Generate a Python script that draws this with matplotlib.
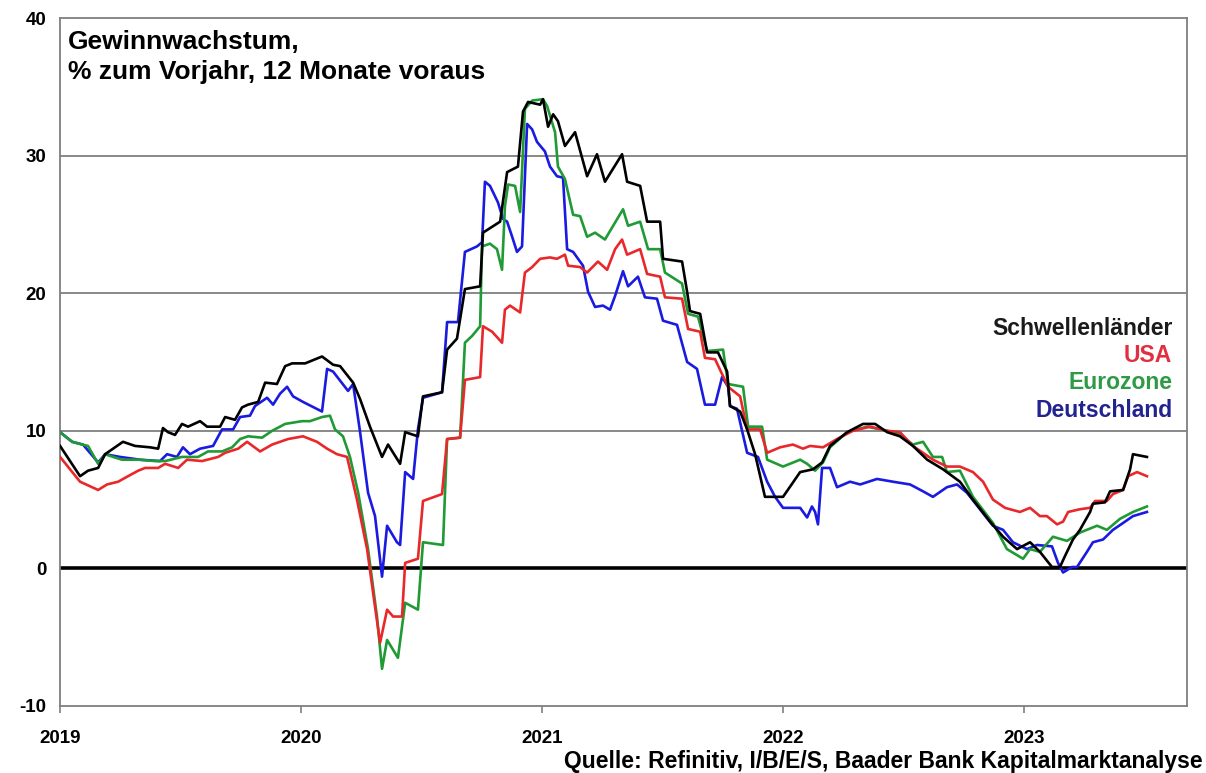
import matplotlib.pyplot as plt
import numpy as np

# Gewinnwachstum (12M forward EPS growth, % yoy)
# time in years after 1 Jan 2019

t_em = [0.000, 0.083, 0.116, 0.158, 0.187, 0.261, 0.311, 0.373, 0.407, 0.427, 0.448, 0.477,
        0.506, 0.531, 0.581, 0.610, 0.664, 0.685, 0.726, 0.755, 0.780, 0.822, 0.851, 0.900,
        0.934, 0.963, 1.017, 1.087, 1.133, 1.162, 1.216, 1.245, 1.286, 1.336, 1.361, 1.411,
        1.432, 1.485, 1.506, 1.585, 1.606, 1.647, 1.680, 1.743, 1.755, 1.826, 1.855, 1.900,
        1.921, 1.942, 1.992, 2.004, 2.025, 2.046, 2.066, 2.095, 2.137, 2.187, 2.228, 2.261,
        2.332, 2.353, 2.407, 2.436, 2.490, 2.502, 2.581, 2.602, 2.614, 2.656, 2.685, 2.730,
        2.768, 2.780, 2.822, 2.851, 2.884, 2.925, 3.000, 3.071, 3.124, 3.162, 3.195, 3.266,
        3.332, 3.382, 3.432, 3.485, 3.539, 3.598, 3.664, 3.734, 3.788, 3.859, 3.913, 3.971,
        4.025, 4.066, 4.116, 4.149, 4.170, 4.203, 4.232, 4.274, 4.286, 4.336, 4.357, 4.411,
        4.440, 4.452, 4.510]
v_em = [8.9, 6.7, 7.1, 7.3, 8.3, 9.2, 8.9, 8.8, 8.7, 10.2, 9.9, 9.7,
        10.5, 10.3, 10.7, 10.3, 10.3, 11.0, 10.8, 11.7, 11.9, 12.1, 13.5, 13.4,
        14.7, 14.9, 14.9, 15.4, 14.8, 14.7, 13.5, 12.3, 10.3, 8.1, 9.0, 7.6,
        9.9, 9.6, 12.5, 12.8, 15.9, 16.7, 20.3, 20.5, 24.4, 25.2, 28.8, 29.2,
        33.2, 33.9, 33.7, 34.1, 32.1, 33.0, 32.5, 30.7, 31.7, 28.5, 30.1, 28.1,
        30.1, 28.1, 27.8, 25.2, 25.2, 22.5, 22.3, 20.1, 18.7, 18.5, 15.7, 15.7,
        14.3, 11.8, 11.4, 10.1, 8.3, 5.2, 5.2, 7.0, 7.2, 7.7, 8.9, 9.9,
        10.5, 10.5, 9.9, 9.6, 8.9, 7.9, 7.2, 6.3, 5.0, 3.4, 2.3, 1.4,
        1.9, 1.2, 0.1, 0.1, 0.9, 2.1, 2.8, 4.1, 4.7, 4.8, 5.6, 5.7,
        7.2, 8.3, 8.1]

t_usa = [0.000, 0.083, 0.158, 0.195, 0.241, 0.282, 0.324, 0.353, 0.407, 0.436, 0.490, 0.527,
         0.589, 0.656, 0.685, 0.739, 0.776, 0.830, 0.880, 0.946, 1.008, 1.066, 1.108, 1.149,
         1.191, 1.232, 1.274, 1.307, 1.328, 1.357, 1.382, 1.419, 1.432, 1.485, 1.506, 1.585,
         1.606, 1.660, 1.680, 1.743, 1.755, 1.793, 1.834, 1.846, 1.867, 1.909, 1.929, 1.959,
         1.992, 2.033, 2.062, 2.095, 2.108, 2.158, 2.187, 2.232, 2.270, 2.303, 2.332, 2.353,
         2.407, 2.436, 2.490, 2.510, 2.581, 2.606, 2.656, 2.676, 2.718, 2.772, 2.822, 2.851,
         2.905, 2.934, 2.988, 3.041, 3.083, 3.112, 3.166, 3.224, 3.290, 3.361, 3.432, 3.485,
         3.539, 3.622, 3.680, 3.734, 3.788, 3.830, 3.871, 3.921, 3.983, 4.025, 4.066, 4.095,
         4.137, 4.162, 4.183, 4.232, 4.274, 4.295, 4.344, 4.369, 4.411, 4.432, 4.469, 4.510]
v_usa = [8.1, 6.3, 5.7, 6.1, 6.3, 6.7, 7.1, 7.3, 7.3, 7.6, 7.3, 7.9,
         7.8, 8.1, 8.4, 8.7, 9.2, 8.5, 9.0, 9.4, 9.6, 9.2, 8.7, 8.3,
         8.1, 5.0, 1.4, -2.8, -5.4, -3.0, -3.5, -3.5, 0.4, 0.7, 4.9, 5.4,
         9.4, 9.5, 13.7, 13.9, 17.6, 17.2, 16.4, 18.8, 19.1, 18.6, 21.5, 21.9,
         22.5, 22.6, 22.5, 22.8, 22.0, 21.9, 21.5, 22.3, 21.7, 23.2, 23.9, 22.8,
         23.2, 21.4, 21.2, 19.7, 19.6, 17.4, 17.2, 15.3, 15.2, 13.2, 12.5, 10.1,
         10.1, 8.4, 8.8, 9.0, 8.7, 8.9, 8.8, 9.4, 10.0, 10.3, 10.0, 9.9,
         8.9, 7.9, 7.4, 7.4, 7.0, 6.3, 5.0, 4.4, 4.1, 4.4, 3.8, 3.8,
         3.2, 3.4, 4.1, 4.3, 4.4, 4.9, 4.9, 5.4, 5.7, 6.7, 7.0, 6.7]

t_ez = [0.000, 0.050, 0.091, 0.116, 0.158, 0.187, 0.220, 0.257, 0.324, 0.394, 0.436, 0.506,
        0.573, 0.614, 0.672, 0.714, 0.747, 0.780, 0.838, 0.880, 0.934, 1.004, 1.037, 1.087,
        1.120, 1.141, 1.174, 1.203, 1.237, 1.278, 1.315, 1.336, 1.357, 1.402, 1.432, 1.485,
        1.506, 1.589, 1.606, 1.660, 1.680, 1.710, 1.743, 1.751, 1.784, 1.813, 1.834, 1.846,
        1.859, 1.888, 1.909, 1.929, 1.959, 2.004, 2.021, 2.054, 2.066, 2.095, 2.129, 2.158,
        2.187, 2.220, 2.261, 2.295, 2.336, 2.357, 2.407, 2.440, 2.490, 2.510, 2.581, 2.606,
        2.647, 2.685, 2.751, 2.772, 2.834, 2.855, 2.913, 2.934, 3.000, 3.071, 3.100, 3.133,
        3.166, 3.195, 3.266, 3.349, 3.432, 3.485, 3.539, 3.581, 3.622, 3.660, 3.680, 3.734,
        3.788, 3.871, 3.929, 3.996, 4.025, 4.066, 4.120, 4.178, 4.232, 4.303, 4.344, 4.398,
        4.452, 4.510]
v_ez = [9.9, 9.2, 9.0, 8.9, 7.6, 8.3, 8.1, 7.9, 7.9, 7.8, 7.8, 8.1,
        8.1, 8.5, 8.5, 8.8, 9.4, 9.6, 9.5, 10.0, 10.5, 10.7, 10.7, 11.0,
        11.1, 10.1, 9.6, 8.1, 5.5, 1.4, -3.5, -7.3, -5.2, -6.5, -2.5, -3.0,
        1.9, 1.7, 9.4, 9.5, 16.4, 16.9, 17.6, 23.4, 23.6, 23.2, 21.7, 26.3,
        27.9, 27.8, 25.9, 33.4, 34.0, 34.1, 33.6, 31.7, 29.2, 28.3, 25.7, 25.6,
        24.1, 24.4, 23.9, 24.9, 26.1, 24.9, 25.2, 23.2, 23.2, 21.5, 20.7, 18.5,
        18.3, 15.8, 15.9, 13.4, 13.2, 10.3, 10.3, 7.9, 7.4, 7.9, 7.6, 7.1,
        7.7, 8.8, 9.9, 10.3, 10.0, 9.7, 9.0, 9.2, 8.1, 8.1, 7.0, 7.1,
        5.2, 3.3, 1.4, 0.7, 1.4, 1.2, 2.3, 2.0, 2.6, 3.1, 2.8, 3.6,
        4.1, 4.5]

t_de = [0.000, 0.050, 0.095, 0.158, 0.187, 0.249, 0.332, 0.415, 0.444, 0.485, 0.510, 0.539,
        0.581, 0.635, 0.672, 0.718, 0.747, 0.788, 0.809, 0.859, 0.884, 0.913, 0.942, 0.967,
        1.008, 1.087, 1.108, 1.133, 1.195, 1.216, 1.245, 1.278, 1.307, 1.336, 1.357, 1.398,
        1.411, 1.432, 1.465, 1.485, 1.506, 1.585, 1.606, 1.651, 1.680, 1.730, 1.751, 1.763,
        1.784, 1.817, 1.838, 1.855, 1.876, 1.896, 1.917, 1.938, 1.959, 1.979, 2.012, 2.033,
        2.062, 2.087, 2.104, 2.129, 2.170, 2.191, 2.220, 2.253, 2.282, 2.303, 2.336, 2.357,
        2.398, 2.427, 2.477, 2.502, 2.560, 2.602, 2.643, 2.676, 2.718, 2.747, 2.772, 2.780,
        2.809, 2.851, 2.896, 2.934, 2.967, 3.000, 3.071, 3.100, 3.120, 3.133, 3.145, 3.162,
        3.195, 3.224, 3.278, 3.320, 3.390, 3.456, 3.527, 3.581, 3.622, 3.680, 3.722, 3.763,
        3.817, 3.871, 3.913, 3.954, 4.012, 4.054, 4.116, 4.141, 4.162, 4.199, 4.220, 4.261,
        4.286, 4.328, 4.369, 4.411, 4.452, 4.510]
v_de = [9.9, 9.2, 9.0, 7.7, 8.3, 8.1, 7.9, 7.8, 8.3, 8.1, 8.8, 8.3,
        8.7, 8.9, 10.1, 10.1, 11.0, 11.1, 11.8, 12.4, 11.9, 12.7, 13.2, 12.5,
        12.1, 11.4, 14.5, 14.3, 12.9, 13.4, 9.9, 5.5, 3.8, -0.6, 3.1, 1.9,
        1.7, 7.0, 6.5, 10.1, 12.4, 12.8, 17.9, 17.9, 23.0, 23.4, 23.7, 28.1,
        27.8, 26.6, 25.4, 25.2, 24.1, 23.0, 23.4, 32.3, 31.9, 31.0, 30.3, 29.2,
        28.5, 28.4, 23.2, 23.0, 22.0, 20.1, 19.0, 19.1, 18.8, 19.8, 21.6, 20.5,
        21.2, 19.7, 19.6, 18.0, 17.7, 15.0, 14.5, 11.9, 11.9, 13.9, 13.2, 11.8,
        11.6, 8.4, 8.1, 6.3, 5.2, 4.4, 4.4, 3.7, 4.5, 4.1, 3.2, 7.3,
        7.3, 5.9, 6.3, 6.1, 6.5, 6.3, 6.1, 5.6, 5.2, 5.9, 6.1, 5.5,
        4.3, 3.1, 2.8, 1.9, 1.4, 1.7, 1.6, 0.4, -0.3, 0.1, 0.1, 1.2,
        1.9, 2.1, 2.8, 3.3, 3.8, 4.1]

names = ["Schwellenländer", "USA", "Eurozone", "Deutschland"]
line_colors = ["#000000", "#e8282a", "#1f9a35", "#1a1ae0"]
text_colors = ["#1a1a1a", "#e03040", "#2f9a45", "#232390"]

years = [2019, 2020, 2021, 2022, 2023]
yticks = [-10, 0, 10, 20, 30, 40]

plt.rcParams['font.family'] = ['Liberation Sans', 'DejaVu Sans']

fig = plt.figure(figsize=(12.06, 7.73), dpi=100)
ax = fig.add_axes([0.0498, 0.0867, 0.9344, 0.89])

for y in [10, 20, 30]:
    ax.axhline(y, color="#7f7f7f", lw=1.3, zorder=1)
ax.axhline(0, color="black", lw=2.6, zorder=1)

series = [(t_em, v_em), (t_usa, v_usa), (t_ez, v_ez), (t_de, v_de)]
# draw black last so it sits on top like in the original
for i in [3, 2, 1, 0]:
    t, v = series[i]
    ax.plot(2019 + np.array(t), v, color=line_colors[i], lw=1.9, zorder=3 + (3 - i))

ax.set_xlim(2019, 2023.676)
ax.set_ylim(-10, 40)
ax.set_xticks(years)
ax.set_xticklabels([str(y) for y in years], fontsize=13.5, fontweight="bold")
ax.set_yticks(yticks)
ax.set_yticklabels([str(y) for y in yticks], fontsize=13.5, fontweight="bold")
ax.tick_params(axis="y", length=0, pad=10)
ax.tick_params(axis="x", length=5, width=1.2, color="#7f7f7f", pad=12, direction="out")
for s in ax.spines.values():
    s.set_color("#7f7f7f")
    s.set_linewidth(1.3)

ax.text(0.007, 0.982, "Gewinnwachstum,\n% zum Vorjahr, 12 Monate voraus",
        transform=ax.transAxes, ha="left", va="top", fontsize=19,
        fontweight="bold", linespacing=1.3)

# legend as coloured labels, right aligned
legend_y = [0.548, 0.509, 0.4695, 0.430]
for i, name in enumerate(names):
    ax.text(0.987, legend_y[i], name, transform=ax.transAxes, ha="right",
            va="center", fontsize=16.5, fontweight="bold", color=text_colors[i])

fig.text(0.997, 0.0, "Quelle: Refinitiv, I/B/E/S, Baader Bank Kapitalmarktanalyse",
         ha="right", va="bottom", fontsize=16.5, fontweight="bold")

fig.savefig("out.png", dpi=100)
